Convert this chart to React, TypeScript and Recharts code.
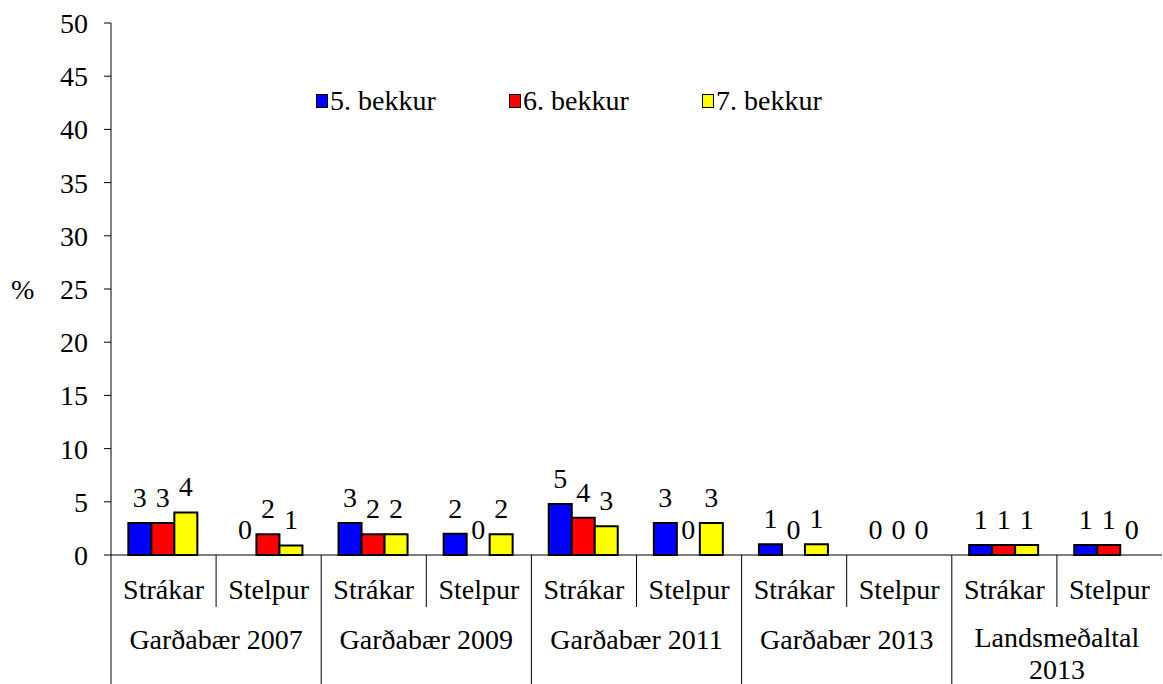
import React from 'react';
import { BarChart, Bar, XAxis, YAxis, Legend, LabelList, Rectangle } from 'recharts';

// category hierarchy: survey group -> gender
const groups = ['Garðabær 2007', 'Garðabær 2009', 'Garðabær 2011', 'Garðabær 2013', 'Landsmeðaltal 2013'];
const genders = ['Strákar', 'Stelpur'];

// % per category, in order Strákar/Stelpur for each group
const bekkur5 = [3.0, 0, 3.0, 2.0, 4.8, 3.0, 1.0, 0, 0.95, 0.95];
const bekkur6 = [3.0, 1.95, 1.95, 0, 3.5, 0, 0, 0, 0.95, 0.95];
const bekkur7 = [4.0, 0.9, 1.95, 1.95, 2.7, 3.0, 1.0, 0, 0.95, 0];

const seriesNames = ['5. bekkur', '6. bekkur', '7. bekkur'];
const seriesColors = ['#0000FF', '#FF0000', '#FFFF00'];
const yTicks = [0, 5, 10, 15, 20, 25, 30, 35, 40, 45, 50];

const data = groups.flatMap((group, gi) =>
  genders.map((sub, si) => {
    const i = gi * 2 + si;
    return { group, sub, b5: bekkur5[i], b6: bekkur6[i], b7: bekkur7[i] };
  })
);

const W = 1163;
const H = 684;
const FONT = '"Liberation Serif", "Times New Roman", serif';
const FS = 28;
const LEFT = 111;
const RIGHT_M = 1;
const TOP = 23;
const X_AXIS_H = 129;
const AXIS_Y = H - X_AXIS_H;
const BAND = (W - LEFT - RIGHT_M) / data.length;

// long group names go on two lines, like the source chart
function wrapLabel(s: string) {
  if (s.length <= 15) return [s];
  const k = s.lastIndexOf(' ');
  return [s.slice(0, k), s.slice(k + 1)];
}

function CategoryTick(props: any) {
  const { x, payload, index } = props;
  const left = x - BAND / 2;
  const first = index % 2 === 0;
  const lines = first ? wrapLabel(data[index].group) : [];
  return (
    <g>
      <text x={x} y={AXIS_Y + 44} textAnchor="middle" fontSize={FS} fontFamily={FONT} fill="#000">
        {payload.value}
      </text>
      <line x1={left} x2={left} y1={AXIS_Y} y2={first ? H : AXIS_Y + 52} stroke="#000" strokeWidth={1} />
      {first && (
        <text x={x + BAND / 2} y={AXIS_Y + (lines.length > 1 ? 92 : 94)} textAnchor="middle" fontSize={FS} fontFamily={FONT} fill="#000">
          {lines.map((l, i) => (
            <tspan key={i} x={x + BAND / 2} dy={i === 0 ? 0 : 32}>
              {l}
            </tspan>
          ))}
        </text>
      )}
    </g>
  );
}

// zero-value bars get a tiny height so they keep their label, but draw nothing
function BarShape(props: any) {
  if (!props.height || Math.abs(props.height) < 1) return <g />;
  return <Rectangle {...props} />;
}

function LegendContent() {
  return (
    <div style={{ display: 'flex', fontFamily: FONT, fontSize: FS, color: '#000' }}>
      {seriesNames.map((name, i) => (
        <div key={name} style={{ width: 193, display: 'flex', alignItems: 'center', whiteSpace: 'nowrap' }}>
          <span
            style={{
              display: 'inline-block',
              width: 10,
              height: 12,
              background: seriesColors[i],
              border: '1.5px solid #000',
              marginRight: 2,
            }}
          />
          {name}
        </div>
      ))}
    </div>
  );
}

export default function App() {
  const labelProps = {
    position: 'top' as const,
    offset: 16,
    fill: '#000',
    fontSize: FS,
    fontFamily: FONT,
    formatter: (v: any) => String(Math.round(Number(v))),
  };
  const barProps = {
    stroke: '#000',
    strokeWidth: 2,
    minPointSize: 0.5,
    shape: <BarShape />,
    isAnimationActive: false,
  };
  return (
    <div style={{ position: 'absolute', left: 0, top: 0, width: W, height: H, background: '#fff' }}>
      <BarChart
        width={W}
        height={H}
        data={data}
        margin={{ top: TOP, right: RIGHT_M, bottom: 0, left: 0 }}
        barCategoryGap="16.5%"
        barGap={0}
      >
        <XAxis
          dataKey="sub"
          height={X_AXIS_H}
          interval={0}
          tickLine={false}
          tickSize={0}
          tickMargin={0}
          axisLine={{ stroke: '#000', strokeWidth: 1 }}
          tick={<CategoryTick />}
        />
        <YAxis
          width={LEFT}
          domain={[0, 50]}
          ticks={yTicks}
          interval={0}
          tickSize={7}
          tickMargin={16}
          axisLine={{ stroke: '#000', strokeWidth: 1 }}
          tickLine={{ stroke: '#000', strokeWidth: 1 }}
          tick={{ fill: '#000', fontSize: FS, fontFamily: FONT }}
          label={{ value: '%', position: 'insideLeft', offset: 11, fill: '#000', fontSize: FS, fontFamily: FONT }}
        />
        <Legend
          layout="horizontal"
          verticalAlign="middle"
          align="center"
          wrapperStyle={{ top: 85, left: 316, width: 'auto', height: 'auto' }}
          content={<LegendContent />}
        />
        <Bar dataKey="b5" name={seriesNames[0]} fill={seriesColors[0]} {...barProps}>
          <LabelList dataKey="b5" {...labelProps} />
        </Bar>
        <Bar dataKey="b6" name={seriesNames[1]} fill={seriesColors[1]} {...barProps}>
          <LabelList dataKey="b6" {...labelProps} />
        </Bar>
        <Bar dataKey="b7" name={seriesNames[2]} fill={seriesColors[2]} {...barProps}>
          <LabelList dataKey="b7" {...labelProps} />
        </Bar>
      </BarChart>
    </div>
  );
}
